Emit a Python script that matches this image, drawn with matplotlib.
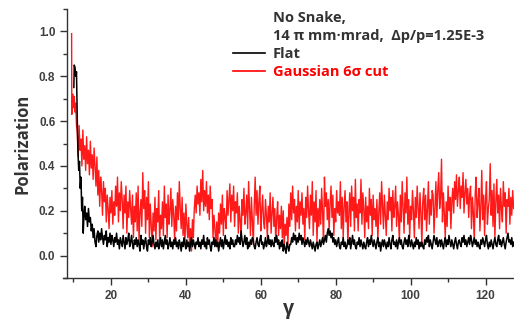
import numpy as np
import matplotlib.pyplot as plt
from matplotlib.lines import Line2D

# Gaussian 6 sigma cut (red): fine head, then a 0.25 grid from gamma = 11.0
red_head_g = [9.5, 9.55, 9.65, 9.8, 10.0, 10.2, 10.4, 10.6, 10.8]
red_head_p = [0.99, 0.63, 0.70, 0.72, 0.66, 0.71, 0.64, 0.68, 0.58]
red_p = [
    0.55, 0.44, 0.58, 0.47, 0.52, 0.40, 0.56, 0.43, 0.49, 0.38, 0.53, 0.41, 0.47, 0.36, 0.51, 0.39, 0.45, 0.34, 0.48, 0.40,
    0.31, 0.44, 0.27, 0.38, 0.22, 0.35, 0.29, 0.18, 0.33, 0.24, 0.30, 0.15, 0.27, 0.21, 0.12, 0.26, 0.19, 0.29, 0.14, 0.24,
    0.18, 0.31, 0.22, 0.35, 0.15, 0.28, 0.20, 0.33, 0.25, 0.12, 0.27, 0.19, 0.31, 0.10, 0.24, 0.17, 0.29, 0.21, 0.14, 0.27,
    0.08, 0.22, 0.15, 0.28, 0.11, 0.31, 0.06, 0.19, 0.25, 0.13, 0.37, 0.21, 0.29, 0.10, 0.26, 0.16, 0.33, 0.08, 0.23, 0.14,
    0.04, 0.19, 0.11, 0.26, 0.07, 0.21, 0.15, 0.29, 0.06, 0.18, 0.12, 0.24, 0.09, 0.31, 0.17, 0.23, 0.08, 0.27, 0.14, 0.20,
    0.30, 0.13, 0.25, 0.18, 0.07, 0.22, 0.11, 0.28, 0.16, 0.33, 0.21, 0.12, 0.26, 0.09, 0.19, 0.05, 0.23, 0.14, 0.08, 0.17,
    0.04, 0.12, 0.02, 0.16, 0.08, 0.21, 0.27, 0.19, 0.31, 0.23, 0.28, 0.18, 0.34, 0.24, 0.38, 0.20, 0.29, 0.22, 0.33, 0.19,
    0.27, 0.16, 0.31, 0.21, 0.25, 0.08, 0.18, 0.12, 0.05, 0.15, 0.04, 0.19, 0.10, 0.23, 0.14, 0.27, 0.09, 0.21, 0.17, 0.12,
    0.29, 0.18, 0.25, 0.32, 0.15, 0.27, 0.20, 0.31, 0.13, 0.24, 0.19, 0.28, 0.10, 0.22, 0.16, 0.07, 0.25, 0.18, 0.30, 0.14,
    0.19, 0.27, 0.12, 0.33, 0.21, 0.09, 0.26, 0.16, 0.05, 0.22, 0.35, 0.18, 0.29, 0.14, 0.24, 0.31, 0.11, 0.20, 0.27, 0.15,
    0.12, 0.25, 0.18, 0.08, 0.22, 0.15, 0.28, 0.10, 0.19, 0.26, 0.13, 0.21, 0.06, 0.17, 0.24, 0.09, 0.18, 0.12, 0.22, 0.08,
    0.20, 0.04, 0.14, 0.09, 0.17, 0.05, 0.23, 0.13, 0.28, 0.16, 0.31, 0.19, 0.25, 0.11, 0.22, 0.15, 0.29, 0.12, 0.24, 0.18,
    0.28, 0.14, 0.21, 0.07, 0.26, 0.17, 0.31, 0.20, 0.12, 0.27, 0.18, 0.33, 0.09, 0.24, 0.15, 0.29, 0.06, 0.21, 0.13, 0.25,
    0.14, 0.30, 0.19, 0.06, 0.35, 0.22, 0.28, 0.16, 0.25, 0.11, 0.23, 0.31, 0.17, 0.27, 0.09, 0.21, 0.15, 0.29, 0.19, 0.24,
    0.18, 0.33, 0.12, 0.26, 0.08, 0.22, 0.29, 0.15, 0.24, 0.05, 0.19, 0.28, 0.13, 0.31, 0.20, 0.26, 0.11, 0.34, 0.17, 0.23,
    0.11, 0.25, 0.19, 0.34, 0.14, 0.28, 0.21, 0.08, 0.26, 0.15, 0.22, 0.12, 0.30, 0.18, 0.25, 0.09, 0.27, 0.16, 0.21, 0.13,
    0.25, 0.07, 0.19, 0.28, 0.14, 0.33, 0.22, 0.12, 0.27, 0.18, 0.09, 0.24, 0.16, 0.30, 0.20, 0.26, 0.11, 0.29, 0.17, 0.22,
    0.31, 0.13, 0.24, 0.18, 0.06, 0.27, 0.15, 0.33, 0.21, 0.10, 0.28, 0.19, 0.35, 0.14, 0.25, 0.08, 0.22, 0.16, 0.29, 0.20,
    0.08, 0.26, 0.17, 0.31, 0.22, 0.12, 0.28, 0.19, 0.05, 0.24, 0.30, 0.16, 0.27, 0.11, 0.21, 0.33, 0.14, 0.25, 0.18, 0.29,
    0.27, 0.10, 0.22, 0.33, 0.17, 0.29, 0.37, 0.21, 0.26, 0.43, 0.15, 0.28, 0.19, 0.08, 0.24, 0.13, 0.31, 0.20, 0.26, 0.12,
    0.24, 0.30, 0.19, 0.33, 0.25, 0.36, 0.22, 0.29, 0.35, 0.21, 0.31, 0.26, 0.37, 0.19, 0.28, 0.34, 0.23, 0.30, 0.17, 0.27,
    0.31, 0.12, 0.26, 0.19, 0.06, 0.28, 0.35, 0.17, 0.24, 0.30, 0.11, 0.22, 0.38, 0.16, 0.27, 0.09, 0.25, 0.33, 0.14, 0.21,
    0.25, 0.41, 0.18, 0.29, 0.13, 0.32, 0.08, 0.24, 0.34, 0.19, 0.27, 0.12, 0.30, 0.21, 0.15, 0.33, 0.22, 0.28, 0.10, 0.25,
    0.22, 0.30, 0.14, 0.26, 0.18, 0.29, 0.21,
]

# Flat (black): fine head, then a 0.25 grid from gamma = 13.0
blk_head_g = [10.1, 10.2, 10.4, 10.6, 10.8, 11.0, 11.2, 11.4, 11.6, 11.8,
              12.0, 12.2, 12.4, 12.6, 12.8]
blk_head_p = [0.75, 0.85, 0.84, 0.80, 0.82, 0.62, 0.46, 0.38, 0.42, 0.30,
              0.35, 0.20, 0.26, 0.10, 0.18]
blk_p = [
    0.22, 0.16, 0.19, 0.13, 0.21, 0.15, 0.17, 0.11, 0.14, 0.08, 0.12, 0.06, 0.04, 0.09, 0.11, 0.06, 0.10, 0.07, 0.12, 0.08,
    0.05, 0.09, 0.07, 0.11, 0.04, 0.08, 0.06, 0.10, 0.05, 0.09, 0.07, 0.04, 0.08, 0.06, 0.10, 0.05, 0.07, 0.03, 0.08, 0.06,
    0.04, 0.09, 0.06, 0.03, 0.08, 0.05, 0.07, 0.10, 0.04, 0.06, 0.09, 0.05, 0.03, 0.07, 0.05, 0.08, 0.04, 0.07, 0.05, 0.02,
    0.09, 0.05, 0.07, 0.03, 0.06, 0.08, 0.04, 0.02, 0.07, 0.05, 0.08, 0.04, 0.06, 0.09, 0.05, 0.03, 0.06, 0.04, 0.07, 0.03,
    0.05, 0.08, 0.04, 0.07, 0.03, 0.06, 0.09, 0.05, 0.07, 0.03, 0.05, 0.08, 0.04, 0.06, 0.03, 0.07, 0.05, 0.08, 0.04, 0.06,
    0.03, 0.07, 0.05, 0.02, 0.06, 0.04, 0.08, 0.05, 0.03, 0.07, 0.04, 0.06, 0.02, 0.05, 0.08, 0.04, 0.07, 0.05, 0.03, 0.06,
    0.05, 0.08, 0.04, 0.06, 0.03, 0.07, 0.05, 0.09, 0.04, 0.06, 0.03, 0.08, 0.05, 0.07, 0.04, 0.02, 0.06, 0.05, 0.08, 0.04,
    0.07, 0.04, 0.06, 0.02, 0.05, 0.08, 0.04, 0.07, 0.03, 0.06, 0.09, 0.05, 0.07, 0.04, 0.06, 0.03, 0.08, 0.05, 0.07, 0.04,
    0.04, 0.07, 0.05, 0.09, 0.06, 0.08, 0.05, 0.11, 0.07, 0.04, 0.06, 0.09, 0.05, 0.08, 0.03, 0.06, 0.04, 0.07, 0.05, 0.08,
    0.07, 0.04, 0.03, 0.06, 0.08, 0.05, 0.04, 0.07, 0.09, 0.05, 0.06, 0.03, 0.05, 0.08, 0.04, 0.06, 0.09, 0.05, 0.07, 0.04,
    0.07, 0.05, 0.04, 0.08, 0.06, 0.09, 0.05, 0.07, 0.03, 0.06, 0.04, 0.07, 0.02, 0.05, 0.03, 0.01, 0.06, 0.04, 0.02, 0.05,
    0.05, 0.08, 0.06, 0.10, 0.07, 0.09, 0.05, 0.08, 0.06, 0.10, 0.07, 0.09, 0.05, 0.08, 0.06, 0.04, 0.07, 0.05, 0.08, 0.06,
    0.04, 0.07, 0.05, 0.03, 0.06, 0.04, 0.02, 0.05, 0.06, 0.03, 0.05, 0.07, 0.04, 0.06, 0.08, 0.05, 0.07, 0.09, 0.06, 0.10,
    0.12, 0.09, 0.11, 0.08, 0.10, 0.06, 0.08, 0.05, 0.07, 0.04, 0.06, 0.08, 0.04, 0.03, 0.06, 0.05, 0.08, 0.04, 0.06, 0.03,
    0.04, 0.07, 0.05, 0.08, 0.03, 0.06, 0.09, 0.05, 0.07, 0.04, 0.03, 0.06, 0.05, 0.08, 0.04, 0.07, 0.05, 0.03, 0.06, 0.04,
    0.03, 0.06, 0.08, 0.04, 0.07, 0.05, 0.09, 0.06, 0.04, 0.07, 0.05, 0.03, 0.06, 0.08, 0.04, 0.06, 0.02, 0.05, 0.07, 0.04,
    0.07, 0.05, 0.03, 0.06, 0.04, 0.08, 0.05, 0.03, 0.07, 0.09, 0.05, 0.06, 0.04, 0.07, 0.03, 0.06, 0.08, 0.05, 0.07, 0.04,
    0.03, 0.06, 0.08, 0.05, 0.07, 0.04, 0.09, 0.06, 0.04, 0.07, 0.05, 0.03, 0.06, 0.04, 0.08, 0.05, 0.07, 0.03, 0.06, 0.04,
    0.06, 0.04, 0.03, 0.07, 0.05, 0.08, 0.06, 0.09, 0.04, 0.07, 0.05, 0.03, 0.06, 0.09, 0.07, 0.05, 0.08, 0.04, 0.06, 0.07,
    0.04, 0.07, 0.05, 0.03, 0.06, 0.08, 0.04, 0.07, 0.05, 0.09, 0.06, 0.04, 0.07, 0.05, 0.03, 0.06, 0.08, 0.05, 0.03, 0.06,
    0.07, 0.05, 0.04, 0.08, 0.06, 0.09, 0.05, 0.07, 0.04, 0.06, 0.08, 0.05, 0.09, 0.07, 0.04, 0.06, 0.08, 0.05, 0.07, 0.04,
    0.06, 0.04, 0.03, 0.07, 0.05, 0.08, 0.06, 0.04, 0.07, 0.09, 0.05, 0.03, 0.06, 0.04, 0.07, 0.05, 0.03, 0.06, 0.08, 0.05,
    0.04, 0.07, 0.09, 0.05, 0.07, 0.04, 0.06, 0.08, 0.05, 0.03, 0.06, 0.08, 0.10, 0.06, 0.07, 0.05, 0.08, 0.04, 0.06,
]

red_g = np.concatenate([red_head_g, 11.0 + 0.25 * np.arange(len(red_p))])
red_y = np.concatenate([red_head_p, red_p])
blk_g = np.concatenate([blk_head_g, 13.0 + 0.25 * np.arange(len(blk_p))])
blk_y = np.concatenate([blk_head_p, blk_p])

fam = ['Open Sans', 'DejaVu Sans']
tick_c = '#404040'

fig = plt.figure(figsize=(5.14, 3.22), dpi=100)
ax = fig.add_axes([63/514, 44/322, 451/514, 269/322])

ax.plot(red_g, red_y, color='#ff0000', lw=1.0, alpha=0.9)
ax.plot(blk_g, blk_y, color='black', lw=1.1)

ax.set_xlim(7.2, 127.6)
ax.set_ylim(-0.1, 1.1)
ax.spines['top'].set_visible(False)
ax.spines['right'].set_visible(False)
ax.spines['left'].set_position(('data', 8.3))
for s in ['left', 'bottom']:
    ax.spines[s].set_color('#333333')
    ax.spines[s].set_linewidth(1.0)

ax.set_xticks([20, 40, 60, 80, 100, 120])
ax.set_xticks([10, 30, 50, 70, 90, 110], minor=True)
ax.set_yticks([0.0, 0.2, 0.4, 0.6, 0.8, 1.0])
ax.set_yticks([-0.1, 0.1, 0.3, 0.5, 0.7, 0.9, 1.1], minor=True)
ax.tick_params(which='major', length=5, width=1, color='#333333', direction='out')
ax.tick_params(which='minor', length=3, width=1, color='#333333', direction='out')
for lab in ax.get_xticklabels() + ax.get_yticklabels():
    lab.set_fontfamily(['Liberation Sans', 'DejaVu Sans'])
    lab.set_fontweight('bold')
    lab.set_fontsize(8.5)
    lab.set_color(tick_c)

ax.set_ylabel('Polarization', fontsize=12, fontweight='bold', family=fam,
              color='#333333', labelpad=5)
ax.set_xlabel('γ', fontsize=14, fontweight='bold', family=fam,
              color='#333333', labelpad=-2)

handles = [Line2D([], [], color='none'), Line2D([], [], color='none'),
           Line2D([], [], color='black', lw=1.2), Line2D([], [], color='red', lw=1.2)]
labels = ['No Snake,', '14 π mm·mrad,  Δp/p=1.25E-3', 'Flat', 'Gaussian 6σ cut']
leg = ax.legend(handles, labels, loc='upper left', bbox_to_anchor=(0.36, 1.02),
                frameon=False, handlelength=2.2, handletextpad=0.55,
                labelspacing=0.27, borderpad=0,
                labelcolor=['#333333', '#333333', '#333333', 'red'],
                prop={'family': fam, 'weight': 'bold', 'size': 10.5})

fig.savefig('out.png', dpi=100)
